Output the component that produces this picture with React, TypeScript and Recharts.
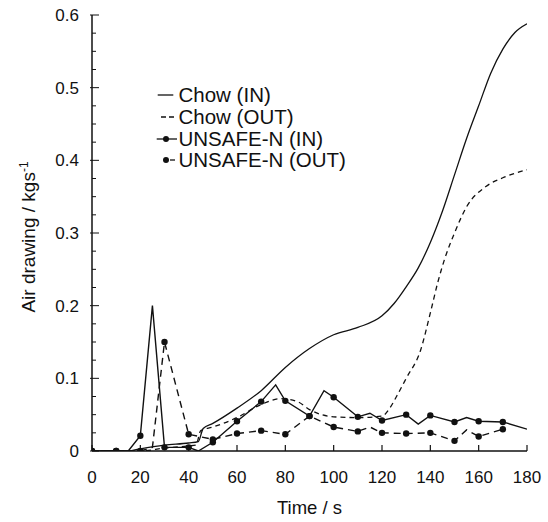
import React from 'react';
import { LineChart, Line, XAxis, YAxis, Legend, Label } from 'recharts';

// ---- data (time in s, air drawing in kg/s) ----
const chowInTime = [0, 15, 20, 30, 40, 44, 46, 50, 60, 70, 80, 90, 100, 110, 120, 125, 130, 135, 140, 145, 150, 155, 160, 165, 170, 175, 180];
const chowInValue = [0, 0, 0.003, 0.008, 0.011, 0.013, 0.031, 0.038, 0.059, 0.083, 0.115, 0.141, 0.16, 0.17, 0.186, 0.203, 0.226, 0.252, 0.287, 0.33, 0.38, 0.43, 0.475, 0.52, 0.553, 0.576, 0.588];

const chowOutTime = [0, 20, 30, 40, 43, 45, 50, 60, 70, 78, 85, 90, 100, 110, 120, 123, 126, 130, 136, 140, 143, 146, 150, 155, 163, 170, 180];
const chowOutValue = [0, 0, 0.004, 0.007, 0.008, 0.028, 0.033, 0.046, 0.064, 0.072, 0.068, 0.057, 0.047, 0.046, 0.048, 0.058, 0.075, 0.1, 0.139, 0.19, 0.231, 0.265, 0.3, 0.336, 0.364, 0.376, 0.387];

const unsafeInTime = [0, 10, 15, 20, 25, 30, 40, 44, 50, 60, 70, 76, 80, 90, 96, 100, 110, 115, 120, 130, 135, 140, 150, 155, 160, 170, 180];
const unsafeInValue = [0, 0, 0, 0.021, 0.2, 0.005, 0.005, 0, 0.012, 0.041, 0.068, 0.091, 0.069, 0.048, 0.083, 0.074, 0.047, 0.052, 0.042, 0.05, 0.037, 0.049, 0.04, 0.046, 0.041, 0.04, 0.03];

const unsafeOutTime = [0, 10, 20, 25, 30, 40, 50, 60, 70, 80, 90, 100, 110, 115, 120, 130, 140, 150, 155, 160, 170];
const unsafeOutValue = [0, 0, 0, 0.005, 0.15, 0.023, 0.016, 0.024, 0.028, 0.023, 0.048, 0.033, 0.027, 0.033, 0.025, 0.024, 0.025, 0.014, 0.029, 0.02, 0.03];

const xTicks = [0, 20, 40, 60, 80, 100, 120, 140, 160, 180];
const yTicks = [0, 0.025, 0.05, 0.075, 0.1, 0.125, 0.15, 0.175, 0.2, 0.225, 0.25, 0.275, 0.3, 0.325, 0.35, 0.375, 0.4, 0.425, 0.45, 0.475, 0.5, 0.525, 0.55, 0.575, 0.6];

const legendLabels = ['Chow (IN)', 'Chow (OUT)', 'UNSAFE-N (IN)', 'UNSAFE-N (OUT)'];

const build = (ts: number[], vs: number[]) => ts.map((t, i) => ({ t, v: vs[i] }));
const chowIn = build(chowInTime, chowInValue);
const chowOut = build(chowOutTime, chowOutValue);
const unsafeIn = build(unsafeInTime, unsafeInValue);
const unsafeOut = build(unsafeOutTime, unsafeOutValue);

const FONT = '"Liberation Sans", Arial, Helvetica, sans-serif';
const INK = '#111';

const SampleDot = (props: any) => {
  const { cx, cy, payload, index } = props;
  const show = payload && payload.t % 10 === 0 && payload.t < 180;
  if (!show || cx == null || cy == null) return <g key={`d${index}`} />;
  return <circle key={`d${index}`} cx={cx} cy={cy} r={3.2} fill={INK} stroke="none" />;
};

const XTick = (props: any) => {
  const { x, y, payload } = props;
  return (
    <g>
      <line x1={x} y1={y} x2={x} y2={y - 6} stroke={INK} strokeWidth={1.2} />
      <text x={x} y={y + 32} textAnchor="middle" fontSize={17} fontFamily={FONT} fill={INK}>
        {String(payload.value)}
      </text>
    </g>
  );
};

const YTick = (props: any) => {
  const { x, y, payload } = props;
  const v = payload.value as number;
  const major = Math.abs(v * 10 - Math.round(v * 10)) < 1e-6;
  return (
    <g>
      <line x1={major ? x - 2 : x} y1={y} x2={x + (major ? 7 : 4)} y2={y} stroke={INK} strokeWidth={1} />
      {major && (
        <text x={x - 13} y={y} dy="0.36em" textAnchor="end" fontSize={17} fontFamily={FONT} fill={INK}>
          {v === 0 ? '0' : v.toFixed(1)}
        </text>
      )}
    </g>
  );
};

const YLabel = () => (
  <text transform="translate(35,237) rotate(-90)" textAnchor="middle" fontSize={19} fontFamily={FONT} fill={INK}>
    Air drawing / kgs
    <tspan dy={-7} fontSize={12}>-1</tspan>
  </text>
);

const LegendContent = () => {
  const rows = [15, 37, 59, 80];
  return (
    <svg width={220} height={100} style={{ display: 'block', overflow: 'visible' }}>
      <line x1={7.7} y1={rows[0]} x2={23.3} y2={rows[0]} stroke={INK} strokeWidth={1.3} />
      <line x1={11} y1={rows[1]} x2={24} y2={rows[1]} stroke={INK} strokeWidth={1.3} strokeDasharray="5 3" />
      <line x1={6.7} y1={rows[2]} x2={27} y2={rows[2]} stroke={INK} strokeWidth={1.3} />
      <circle cx={16} cy={rows[2]} r={3} fill={INK} />
      <circle cx={16} cy={rows[3]} r={3} fill={INK} />
      <line x1={20} y1={rows[3]} x2={25} y2={rows[3]} stroke={INK} strokeWidth={1.3} />
      {legendLabels.map((s, i) => (
        <text key={s} x={28.5} y={rows[i] + 7} fontSize={20.5} fontFamily={FONT} fill={INK}>
          {s}
        </text>
      ))}
    </svg>
  );
};

export default function App() {
  return (
    <div style={{ position: 'absolute', left: 0, top: 0, width: 548, height: 522, background: '#fff' }}>
      <LineChart width={548} height={522} margin={{ top: 15, right: 21, bottom: 0, left: 0 }}>
        <XAxis
          dataKey="t"
          type="number"
          domain={[0, 180]}
          ticks={xTicks}
          interval={0}
          height={71}
          tickSize={0}
          tickMargin={0}
          tickLine={false}
          tick={(p: any) => <XTick {...p} />}
          axisLine={{ stroke: INK, strokeWidth: 1.5 }}
          allowDataOverflow
        >
          <Label value="Time / s" position="insideBottom" offset={8} fontSize={18.5} fontFamily={FONT} fill={INK} />
        </XAxis>
        <YAxis
          dataKey="v"
          type="number"
          domain={[0, 0.6]}
          ticks={yTicks}
          interval={0}
          width={92}
          tickSize={0}
          tickMargin={0}
          tickLine={false}
          tick={(p: any) => <YTick {...p} />}
          axisLine={{ stroke: INK, strokeWidth: 1.5 }}
          allowDataOverflow
        >
          <Label content={<YLabel />} />
        </YAxis>
        <Legend
          layout="vertical"
          align="center"
          verticalAlign="middle"
          content={<LegendContent />}
          wrapperStyle={{ position: 'absolute', left: 150, top: 80, width: 220, height: 100 }}
        />
        <Line data={chowIn} dataKey="v" type="monotone" stroke={INK} strokeWidth={1.3} dot={false} isAnimationActive={false} name="Chow (IN)" />
        <Line data={chowOut} dataKey="v" type="monotone" stroke={INK} strokeWidth={1.3} strokeDasharray="5 4" dot={false} isAnimationActive={false} name="Chow (OUT)" />
        <Line data={unsafeIn} dataKey="v" type="linear" stroke={INK} strokeWidth={1.4} dot={SampleDot} activeDot={false} isAnimationActive={false} name="UNSAFE-N (IN)" />
        <Line data={unsafeOut} dataKey="v" type="linear" stroke={INK} strokeWidth={1.4} strokeDasharray="7 5" dot={SampleDot} activeDot={false} isAnimationActive={false} name="UNSAFE-N (OUT)" />
      </LineChart>
    </div>
  );
}
